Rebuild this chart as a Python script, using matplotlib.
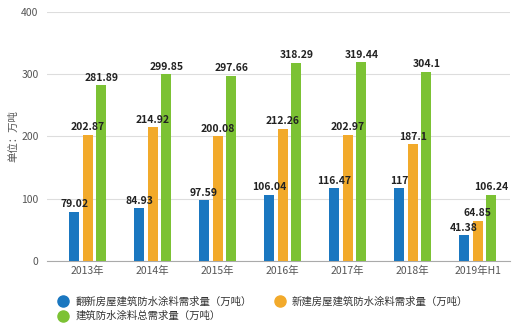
import numpy as np
import matplotlib
matplotlib.use("Agg")
from matplotlib import pyplot as plt
from matplotlib.lines import Line2D

plt.rcParams['font.family'] = ['Noto Sans CJK SC', 'DejaVu Sans']

years = ["2013年", "2014年", "2015年", "2016年", "2017年", "2018年", "2019年H1"]
renovate = [79.02, 84.93, 97.59, 106.04, 116.47, 117, 41.38]
new_build = [202.87, 214.92, 200.08, 212.26, 202.97, 187.1, 64.85]
total = [281.89, 299.85, 297.66, 318.29, 319.44, 304.1, 106.24]

names = ["翻新房屋建筑防水涂料需求量（万吨）",
         "新建房屋建筑防水涂料需求量（万吨）",
         "建筑防水涂料总需求量（万吨）"]
colors = ["#1a77c0", "#f2aa2b", "#7cc234"]

fig = plt.figure(figsize=(5.2, 3.3), dpi=100)
ax = fig.add_axes([0.09, 0.209, 0.891, 0.755])

x = np.arange(len(years))
w = 0.155
step = 0.21
for i, (vals, c) in enumerate(zip([renovate, new_build, total], colors)):
    pos = x + (i - 1) * step
    ax.bar(pos, vals, width=w, color=c, zorder=3)
    for px, v in zip(pos, vals):
        ax.text(px, v + 4, f"{v:g}", ha="center", va="bottom",
                fontsize=7.5, fontweight="bold", color="#222222", zorder=4)

ax.set_xlim(-0.63, 6.5)
ax.set_ylim(0, 400)
ax.set_yticks([0, 100, 200, 300, 400])
ax.set_xticks(x)
ax.set_xticklabels(years)
ax.tick_params(axis="both", length=0, labelsize=7.5, labelcolor="#555555")
ax.tick_params(axis="y", pad=6)
ax.grid(axis="y", color="#dddddd", linewidth=0.8, zorder=0)
for s in ["top", "right", "left"]:
    ax.spines[s].set_visible(False)
ax.spines["bottom"].set_color("#aaaaaa")
ax.set_ylabel("单位：万吨", fontsize=7.5, color="#555555")
ax.yaxis.set_label_coords(-0.062, 0.5)

handles = [Line2D([], [], marker="o", linestyle="", markersize=8,
                  markerfacecolor=c, markeredgecolor=c) for c in colors]
leg = fig.legend([handles[0], handles[2], handles[1]],
                 [names[0], names[2], names[1]],
                 loc="upper left", bbox_to_anchor=(0.1115, 0.103), ncol=2,
                 frameon=False, fontsize=7.5, handlelength=1.0,
                 handletextpad=0.65, columnspacing=2.2, labelspacing=0.44,
                 borderpad=0, borderaxespad=0)
for t in leg.get_texts():
    t.set_color("#333333")

fig.savefig("out.png", dpi=100)
